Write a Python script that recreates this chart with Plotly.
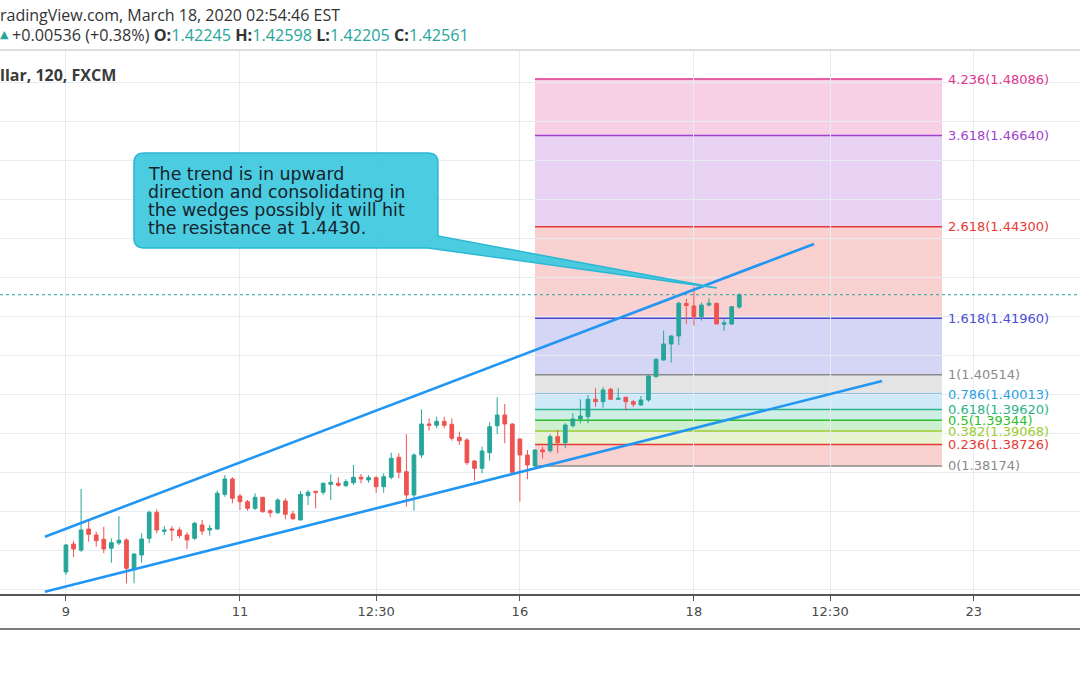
import plotly.graph_objects as go

# ---------------- data ----------------
bar_index = list(range(90))

opens = [1.35459, 1.36176, 1.36022, 1.36560, 1.36407, 1.36296, 1.36066, 1.36202, 1.36279, 1.35536,
         1.35894, 1.36322, 1.36988, 1.36501, 1.36560, 1.36535, 1.36407, 1.36322, 1.36663, 1.36535,
         1.36560, 1.37449, 1.37841, 1.37406, 1.37260, 1.37091, 1.37372, 1.37029, 1.36978, 1.37278,
         1.36945, 1.36791, 1.37413, 1.37526, 1.37500, 1.37705, 1.37731, 1.37669, 1.37746, 1.37885,
         1.37815, 1.37874, 1.37644, 1.37885, 1.38397, 1.38028, 1.37431, 1.38456, 1.39250, 1.39217,
         1.39319, 1.39242, 1.38909, 1.38840, 1.38302, 1.38115, 1.38515, 1.39206, 1.39480, 1.39250,
         1.38866, 1.38456, 1.38174, 1.38584, 1.38566, 1.38925, 1.38771, 1.39206, 1.39378, 1.39437,
         1.39883, 1.39821, 1.40139, 1.39883, 1.39934, 1.39821, 1.39737, 1.39865, 1.40461, 1.40889,
         1.41299, 1.41504, 1.42336, 1.42272, 1.41998, 1.42298, 1.42342, 1.41806, 1.41811, 1.42245]
highs = [1.36176, 1.36253, 1.37585, 1.36791, 1.36491, 1.36619, 1.36322, 1.36893, 1.36322, 1.35938,
         1.36450, 1.37029, 1.37065, 1.36637, 1.36637, 1.36604, 1.36476, 1.36747, 1.36791, 1.36663,
         1.37541, 1.37944, 1.37885, 1.37457, 1.37303, 1.37475, 1.37380, 1.37065, 1.37347, 1.37347,
         1.37029, 1.37534, 1.37559, 1.37530, 1.37746, 1.37961, 1.37885, 1.37833, 1.38200, 1.37969,
         1.37944, 1.37918, 1.37987, 1.38515, 1.38499, 1.38986, 1.38499, 1.39626, 1.39396, 1.39437,
         1.39437, 1.39396, 1.39053, 1.38884, 1.38328, 1.38668, 1.39293, 1.39934, 1.39762, 1.39268,
         1.38870, 1.38584, 1.38610, 1.38668, 1.38986, 1.39096, 1.39268, 1.39524, 1.39883, 1.39993,
         1.40164, 1.40190, 1.40180, 1.40164, 1.39949, 1.39865, 1.39967, 1.40497, 1.40933, 1.41640,
         1.41530, 1.42383, 1.42452, 1.42767, 1.42362, 1.42470, 1.42349, 1.41932, 1.42272, 1.42598]
lows = [1.35382, 1.35843, 1.35971, 1.36235, 1.36107, 1.35938, 1.35697, 1.36150, 1.35169, 1.35169,
        1.35697, 1.36194, 1.36450, 1.36407, 1.36253, 1.36322, 1.36048, 1.36279, 1.36407, 1.36389,
        1.36535, 1.37388, 1.37219, 1.37047, 1.37029, 1.37047, 1.36978, 1.36860, 1.36945, 1.36809,
        1.36791, 1.36785, 1.37175, 1.37091, 1.37431, 1.37303, 1.37644, 1.37644, 1.37687, 1.37731,
        1.37746, 1.37490, 1.37490, 1.37833, 1.37859, 1.37132, 1.37029, 1.38379, 1.39078, 1.39140,
        1.39140, 1.38822, 1.38712, 1.38200, 1.37798, 1.37987, 1.38310, 1.38994, 1.38756, 1.37987,
        1.37260, 1.37833, 1.38156, 1.38371, 1.38515, 1.38499, 1.38627, 1.39165, 1.39268, 1.39268,
        1.39693, 1.39667, 1.39865, 1.39865, 1.39601, 1.39685, 1.39711, 1.39821, 1.40446, 1.40871,
        1.40820, 1.41273, 1.41811, 1.41773, 1.41901, 1.42260, 1.41806, 1.41640, 1.41786, 1.42205]
closes = [1.36150, 1.36048, 1.36535, 1.36425, 1.36261, 1.36048, 1.36209, 1.36271, 1.35554, 1.35920,
          1.36304, 1.36988, 1.36535, 1.36535, 1.36535, 1.36389, 1.36279, 1.36706, 1.36509, 1.36578,
          1.37475, 1.37841, 1.37347, 1.37260, 1.37091, 1.37372, 1.37003, 1.36978, 1.37303, 1.36937,
          1.36824, 1.37449, 1.37500, 1.37500, 1.37731, 1.37756, 1.37680, 1.37772, 1.37885, 1.37841,
          1.37874, 1.37644, 1.37900, 1.38371, 1.38013, 1.37431, 1.38456, 1.39250, 1.39217, 1.39319,
          1.39217, 1.38884, 1.38822, 1.38259, 1.38115, 1.38558, 1.39181, 1.39480, 1.39250, 1.38013,
          1.38456, 1.38200, 1.38584, 1.38540, 1.38925, 1.38771, 1.39224, 1.39378, 1.39455, 1.39883,
          1.39821, 1.40121, 1.39883, 1.39908, 1.39821, 1.39754, 1.39865, 1.40479, 1.40907, 1.41299,
          1.41504, 1.42342, 1.42285, 1.41998, 1.42298, 1.42342, 1.41811, 1.41842, 1.42254, 1.42561]

tick_bars = [0, 23, 41, 60, 83, 101, 120]
tick_labels = ["9", "11", "12:30", "16", "18", "12:30", "23"]

fib_ratios = ["0", "0.236", "0.382", "0.5", "0.618", "0.786", "1", "1.618", "2.618", "3.618", "4.236"]
fib_prices = [1.38174, 1.38726, 1.39068, 1.39344, 1.39620, 1.40013, 1.40514, 1.41960, 1.44300, 1.46640, 1.48086]
fib_colors = ["#8a8a8a", "#e53935", "#9ccc30", "#2dbe2d", "#2bb38a", "#2e9fe0",
              "#8a8a8a", "#4b4bd6", "#e53935", "#a03fd0", "#e0358f"]
fib_bars = [62.0, 115.8]

upper_trend_bars = [-2.78, 98.88]
upper_trend_prices = [1.36363, 1.43861]
lower_trend_bars = [-2.78, 107.87]
lower_trend_prices = [1.34954, 1.40351]

last_price = 1.42561

callout_lines = ["The trend is in upward",
                 "direction and consolidating in",
                 "the wedges possibly it will hit",
                 "the resistance at 1.4430."]
callout_bars = [8.99, 49.17]
callout_prices = [1.43758, 1.46191]
callout_tip_bar = 86.05
callout_tip_price = 1.42733

header_1 = "radingView.com, March 18, 2020 02:54:46 EST"
header_change = "+0.00536 (+0.38%)"
header_ohlc = ["1.42245", "1.42598", "1.42205", "1.42561"]
symbol_text = "llar, 120, FXCM"

# ---------------- layout constants ----------------
W, H = 1080, 675
M_T, M_B = 50, 81
PLOT_H = H - M_T - M_B
X_RANGE = [-8.72, 134.04]
Y_RANGE = [1.34895, 1.48830]
DX = (X_RANGE[1] - X_RANGE[0]) / W       # bars per pixel
DY = (Y_RANGE[1] - Y_RANGE[0]) / PLOT_H  # price per pixel

GREEN = "#26a69a"
RED = "#ef5350"


def hex_rgba(h, a):
    h = h.lstrip("#")
    return "rgba(%d,%d,%d,%.2f)" % (int(h[0:2], 16), int(h[2:4], 16), int(h[4:6], 16), a)


def paper_y(py):
    return (H - M_B - py) / PLOT_H


fig = go.Figure()

fig.add_trace(go.Candlestick(
    x=bar_index, open=opens, high=highs, low=lows, close=closes,
    increasing=dict(line=dict(color=GREEN, width=1), fillcolor=GREEN),
    decreasing=dict(line=dict(color=RED, width=1), fillcolor=RED),
    whiskerwidth=0, showlegend=False, hoverinfo="skip",
))

for bx, py in [(upper_trend_bars, upper_trend_prices), (lower_trend_bars, lower_trend_prices)]:
    fig.add_trace(go.Scatter(x=bx, y=py, mode="lines", line=dict(color="#2196f3", width=2.6),
                             showlegend=False, hoverinfo="skip"))

shapes = []
for i in range(1, len(fib_prices)):
    shapes.append(dict(type="rect", xref="x", yref="y", x0=fib_bars[0], x1=fib_bars[1],
                       y0=fib_prices[i - 1], y1=fib_prices[i], line=dict(width=0),
                       fillcolor=hex_rgba(fib_colors[i], 0.23), layer="below"))
for p, c in zip(fib_prices, fib_colors):
    shapes.append(dict(type="line", xref="x", yref="y", x0=fib_bars[0], x1=fib_bars[1],
                       y0=p, y1=p, line=dict(color=c, width=1.5), layer="below"))
shapes.append(dict(type="line", xref="paper", yref="y", x0=0, x1=1, y0=last_price, y1=last_price,
                   line=dict(color=GREEN, width=1, dash="dot")))
shapes.append(dict(type="line", xref="paper", yref="paper", x0=0, x1=1, y0=1, y1=1,
                   line=dict(color="#bdbdbd", width=1)))
shapes.append(dict(type="line", xref="paper", yref="paper", x0=0, x1=1,
                   y0=paper_y(629), y1=paper_y(629), line=dict(color="#7a7a7a", width=2)))

x0, x1 = callout_bars
yb, yt = callout_prices
rx, ry = 10 * DX, 10 * DY
tail_up, tail_left = 12 * DY, 10 * DX
path = (f"M {x0+rx},{yt} L {x1-rx},{yt} Q {x1},{yt} {x1},{yt-ry} "
        f"L {x1},{yb+tail_up} L {callout_tip_bar},{callout_tip_price} L {x1-tail_left},{yb} "
        f"L {x0+rx},{yb} Q {x0},{yb} {x0},{yb+ry} L {x0},{yt-ry} Q {x0},{yt} {x0+rx},{yt} Z")
shapes.append(dict(type="path", xref="x", yref="y", path=path,
                   fillcolor="rgba(60,200,222,0.92)", line=dict(color="#2ab8d4", width=1.5),
                   layer="above"))

annotations = []
for r, p, c in zip(fib_ratios, fib_prices, fib_colors):
    annotations.append(dict(x=fib_bars[1], y=p, xref="x", yref="y", xanchor="left", yanchor="middle",
                            xshift=4, text=f"{r}({p:.5f})", showarrow=False,
                            font=dict(family="DejaVu Sans", size=13, color=c)))
for i, line in enumerate(callout_lines):
    annotations.append(dict(x=x0, y=yt, xref="x", yref="y", xanchor="left", yanchor="middle",
                            xshift=12, yshift=-(21 + 18 * i), text=line, showarrow=False,
                            font=dict(family="DejaVu Sans", size=17.4, color="#15232b")))

annotations.append(dict(x=0, y=paper_y(15.5), xref="paper", yref="paper", xanchor="left",
                        yanchor="middle", xshift=-2, text=header_1, showarrow=False,
                        font=dict(family="Open Sans", size=16, color="#333333")))
annotations.append(dict(x=0, y=paper_y(34), xref="paper", yref="paper", xanchor="left",
                        yanchor="middle", xshift=-2, text="▲", showarrow=False,
                        font=dict(family="DejaVu Sans", size=11, color=GREEN)))
ohlc_html = " ".join(f"<b>{k}:</b><span style='color:{GREEN}'>{v}</span>"
                     for k, v in zip(["O", "H", "L", "C"], header_ohlc))
annotations.append(dict(x=10 / W, y=paper_y(35), xref="paper", yref="paper", xanchor="left",
                        yanchor="middle", text=f"{header_change} {ohlc_html}", showarrow=False,
                        font=dict(family="Open Sans", size=16.2, color="#333333")))
annotations.append(dict(x=0, y=paper_y(75), xref="paper", yref="paper", xanchor="left",
                        yanchor="middle", xshift=-2, text=f"<b>{symbol_text}</b>", showarrow=False,
                        font=dict(family="Open Sans", size=16, color="#3a3a3a")))

fig.update_layout(
    width=W, height=H,
    margin=dict(l=0, r=0, t=M_T, b=M_B, pad=0),
    paper_bgcolor="white", plot_bgcolor="white",
    showlegend=False,
    shapes=shapes, annotations=annotations,
    xaxis=dict(range=X_RANGE, tickvals=tick_bars, ticktext=tick_labels, showgrid=True,
               gridcolor="#e6ecf2", gridwidth=1, zeroline=False, showline=True, linecolor="#555555",
               linewidth=1.5, ticks="outside", ticklen=5, tickcolor="#555555",
               tickfont=dict(family="DejaVu Sans", size=13, color="#4a4a4a"),
               rangeslider=dict(visible=False), fixedrange=True),
    yaxis=dict(range=Y_RANGE, tick0=0, dtick=0.01, showgrid=True, gridcolor="#e6ecf2",
               gridwidth=1, zeroline=False, showticklabels=False, ticks="", showline=False,
               fixedrange=True),
)

fig.write_html("out.html", config={"displayModeBar": False})
